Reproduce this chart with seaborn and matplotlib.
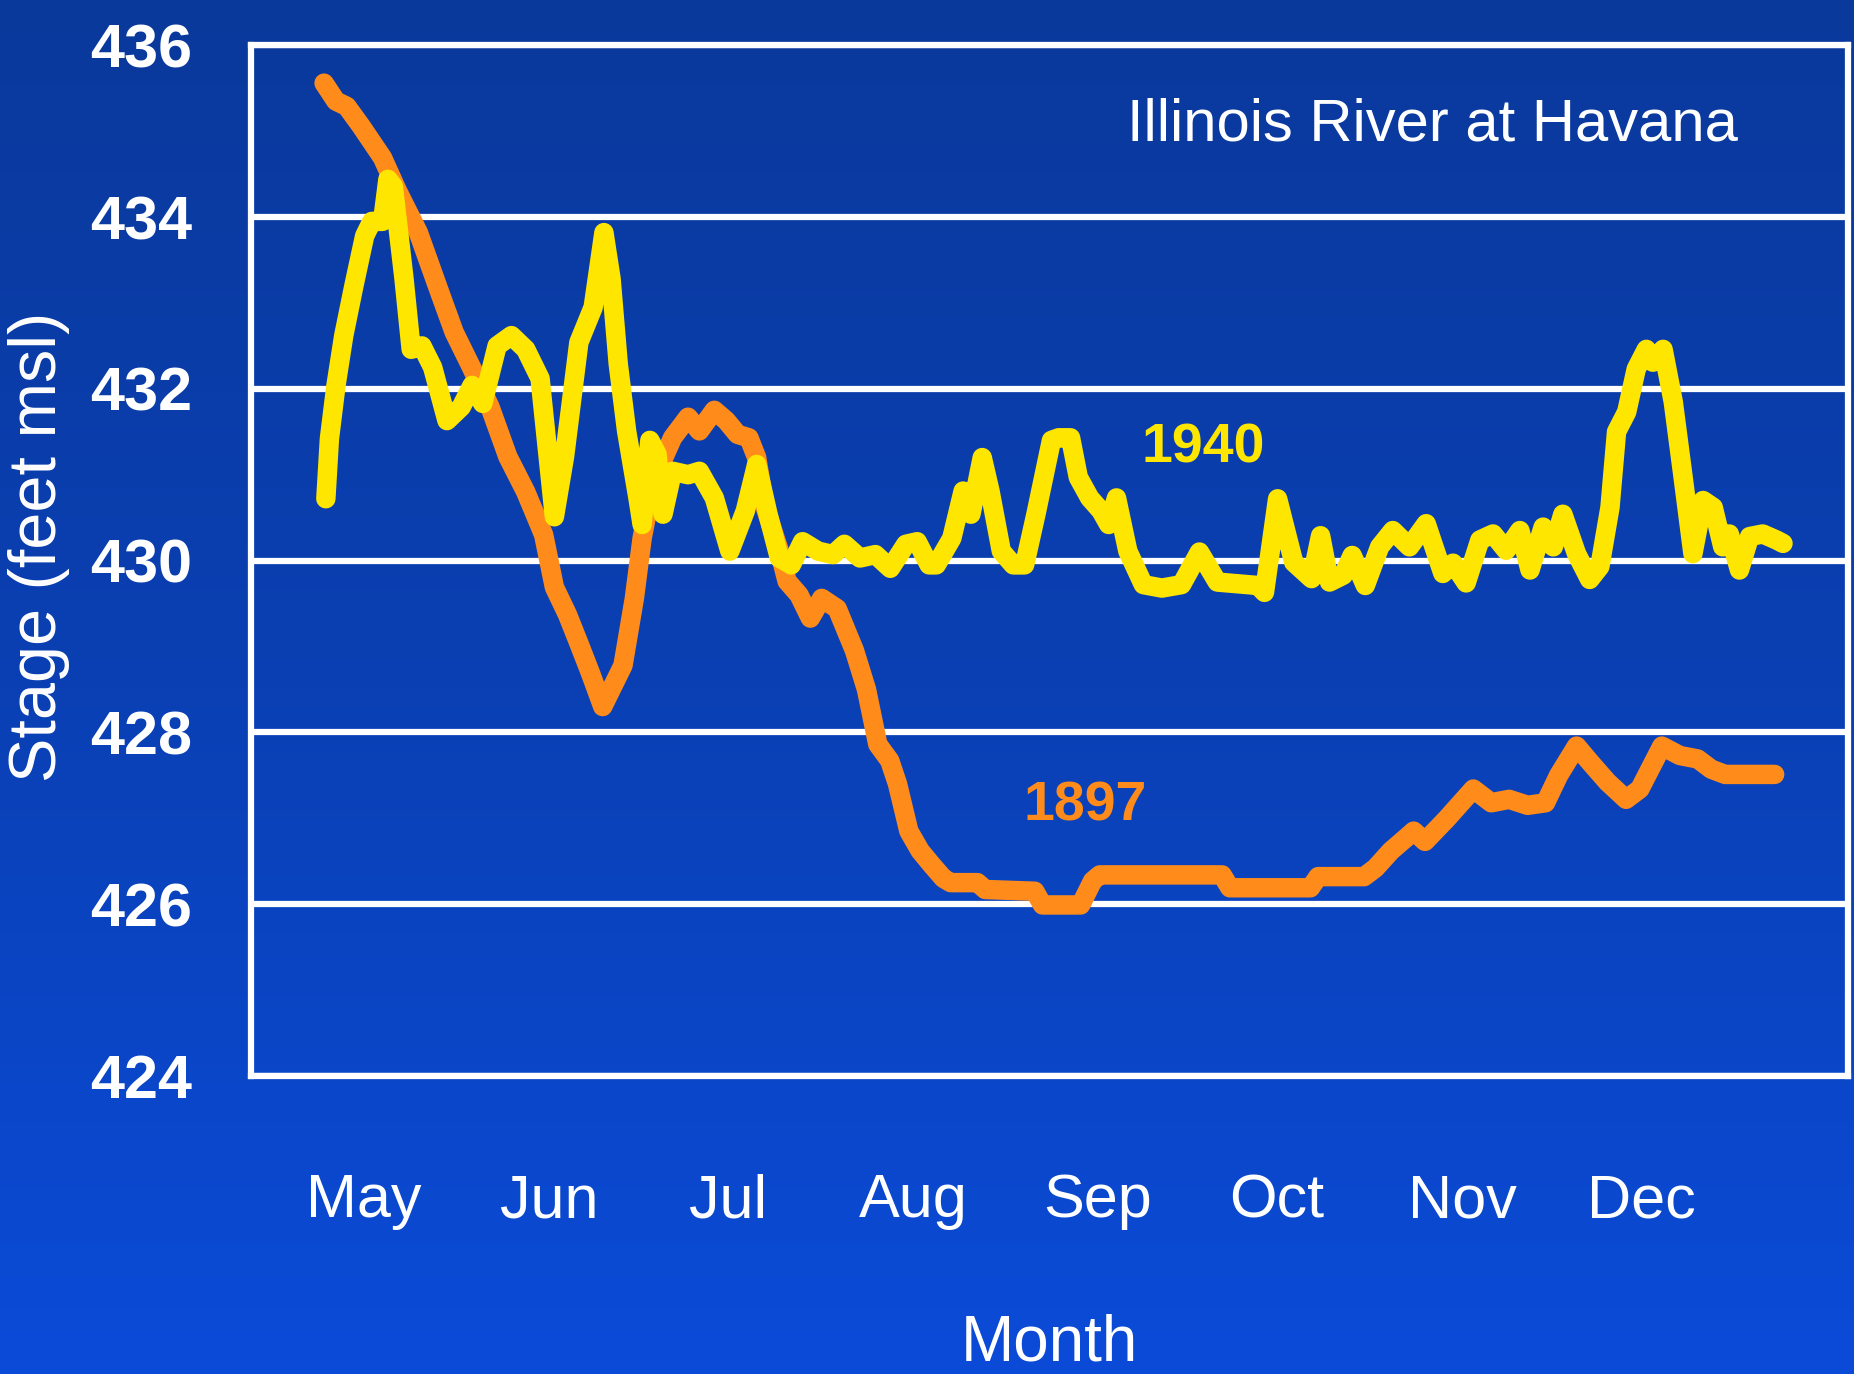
import numpy as np
import pandas as pd
import seaborn as sns
import matplotlib.pyplot as plt
from matplotlib.colors import LinearSegmentedColormap

# day 0 = May 1, month labels sit at mid-month
day_1897 = [8.3, 10.3, 12.1, 14.5, 18.1, 20.5, 24.1, 27.7, 30.1, 33.0, 36.1, 39.1, 42.1, 45.1, 46.9,
            49.1, 51.1, 53.0, 55.0, 58.4, 60.3, 61.6, 63.5, 66.7, 69.3, 71.2, 73.7, 75.7, 77.6, 79.5,
            80.8, 82.1, 84.6, 85.9, 87.9, 89.8, 91.7, 94.3, 97.2, 99.2, 101.1, 103.1, 104.4, 106.3,
            108.2, 110.1, 112.1, 113.3, 117.8, 119.1, 127.4, 128.7, 135.1, 137.1, 138.3, 158.8, 160.1,
            173.6, 174.9, 182.6, 184.5, 187.1, 189.6, 190.9, 192.8, 196.4, 200.9, 203.9, 206.9, 210.0,
            213.0, 215.2, 218.2, 220.5, 223.4, 226.5, 228.8, 232.5, 235.5, 238.5, 240.8, 243.1, 251.4]
stage_1897 = [435.56, 435.35, 435.29, 435.06, 434.69, 434.32, 433.82, 433.12, 432.66, 432.25, 431.79,
              431.21, 430.80, 430.30, 429.69, 429.37, 429.02, 428.68, 428.30, 428.78, 429.56, 430.26,
              430.93, 431.43, 431.67, 431.51, 431.75, 431.63, 431.47, 431.43, 431.20, 430.65, 430.11,
              429.76, 429.60, 429.33, 429.56, 429.44, 428.95, 428.50, 427.86, 427.67, 427.40, 426.85,
              426.62, 426.46, 426.30, 426.25, 426.25, 426.17, 426.15, 425.99, 425.99, 426.27, 426.34,
              426.34, 426.19, 426.19, 426.32, 426.32, 426.42, 426.62, 426.77, 426.85, 426.73, 426.99,
              427.34, 427.18, 427.22, 427.15, 427.18, 427.50, 427.84, 427.65, 427.42, 427.22, 427.34,
              427.84, 427.73, 427.69, 427.57, 427.51, 427.51]

day_1940 = [8.6, 9.2, 10.3, 11.6, 13.3, 15.1, 16.3, 18.1, 19.0, 19.9, 21.7, 22.9, 24.7, 26.5, 28.9,
            31.3, 33.1, 34.9, 37.3, 39.7, 42.1, 44.5, 46.9, 48.6, 51.0, 53.4, 55.2, 56.4, 57.6, 59.0,
            60.9, 61.6, 62.9, 64.1, 65.1, 66.7, 69.3, 71.2, 73.7, 76.3, 78.9, 80.8, 82.7, 84.6, 86.6,
            88.5, 91.1, 93.6, 95.5, 98.1, 100.7, 103.2, 105.8, 107.7, 109.7, 110.9, 113.5, 115.4, 116.7,
            118.6, 119.9, 121.8, 123.8, 125.7, 127.6, 130.2, 131.4, 133.4, 134.7, 136.6, 138.5, 139.8,
            141.1, 143.0, 145.6, 148.7, 152.0, 155.0, 158.0, 164.8, 165.9, 168.1, 170.8, 173.8, 175.3,
            176.8, 179.1, 180.6, 182.8, 185.2, 187.4, 190.2, 193.0, 195.8, 197.5, 199.7, 202.0, 204.2,
            206.4, 208.7, 210.4, 212.6, 214.3, 215.9, 218.2, 220.4, 222.1, 223.8, 224.9, 226.6, 228.2,
            229.9, 231.0, 232.7, 234.4, 236.0, 237.7, 239.4, 241.1, 242.7, 243.8, 245.5, 247.2, 249.4,
            251.7, 252.8]
stage_1940 = [430.72, 431.42, 432.04, 432.62, 433.20, 433.78, 433.95, 433.95, 434.44, 434.36, 433.28,
              432.46, 432.50, 432.25, 431.63, 431.79, 432.04, 431.83, 432.50, 432.62, 432.46, 432.12,
              430.51, 431.21, 432.54, 432.95, 433.82, 433.28, 432.29, 431.51, 430.73, 430.42, 431.40,
              431.24, 430.54, 431.04, 431.00, 431.04, 430.73, 430.11, 430.58, 431.12, 430.54, 430.03,
              429.95, 430.22, 430.11, 430.07, 430.19, 430.03, 430.07, 429.91, 430.19, 430.22, 429.95,
              429.95, 430.26, 430.81, 430.54, 431.20, 430.81, 430.11, 429.95, 429.95, 430.54, 431.40,
              431.43, 431.43, 430.97, 430.73, 430.58, 430.42, 430.73, 430.11, 429.72, 429.68, 429.72,
              430.10, 429.75, 429.71, 429.63, 430.72, 429.98, 429.79, 430.29, 429.75, 429.83, 430.06,
              429.71, 430.16, 430.35, 430.16, 430.43, 429.85, 429.97, 429.74, 430.24, 430.31, 430.12,
              430.35, 429.89, 430.39, 430.16, 430.54, 430.08, 429.78, 429.93, 430.62, 431.50, 431.73,
              432.23, 432.46, 432.31, 432.46, 431.85, 431.00, 430.08, 430.70, 430.62, 430.16, 430.31,
              429.89, 430.28, 430.31, 430.24, 430.20]

month_labels = ['May', 'Jun', 'Jul', 'Aug', 'Sep', 'Oct', 'Nov', 'Dec']
month_days = [15, 46, 76, 107, 138, 168, 199, 229]
y_ticks = [424, 426, 428, 430, 432, 434, 436]

df = pd.concat([
    pd.DataFrame({'day': day_1897, 'stage': stage_1897, 'year': '1897'}),
    pd.DataFrame({'day': day_1940, 'stage': stage_1940, 'year': '1940'}),
])

sns.set_style('white')
plt.rcParams['font.family'] = ['Liberation Sans', 'DejaVu Sans']

fig = plt.figure(figsize=(18.54, 13.74), dpi=100)

# slide background: darker blue at the top, brighter toward the bottom
bg_ax = fig.add_axes([0, 0, 1, 1], zorder=-1)
grad = LinearSegmentedColormap.from_list('slide', ['#0a399c', '#0a40b4', '#0a4bd8'])
bg_ax.imshow(np.linspace(0, 1, 256).reshape(-1, 1), aspect='auto', cmap=grad, extent=(0, 1, 0, 1))
bg_ax.set_axis_off()

ax = fig.add_axes([0.1352, 0.217, 0.8616, 0.750])
ax.patch.set_alpha(0)

# orange first so the yellow 1940 line sits on top
sns.lineplot(data=df, x='day', y='stage', hue='year',
             palette={'1897': '#ff8c1a', '1940': '#ffe600'},
             linewidth=14, ax=ax, legend=False, sort=False, zorder=3)
for ln in ax.lines:
    ln.set_solid_capstyle('round')
    ln.set_solid_joinstyle('round')

ax.set_xlim(-4.0, 263.7)
ax.set_ylim(424, 436)
ax.set_yticks(y_ticks)
ax.set_xticks(month_days)
ax.set_xticklabels(month_labels)
ax.yaxis.grid(True, color='white', linewidth=4.5)
ax.set_axisbelow(True)
for s in ax.spines.values():
    s.set_color('white')
    s.set_linewidth(4.5)

ax.tick_params(axis='both', length=0, colors='white')
ax.tick_params(axis='y', labelsize=44, pad=42)
ax.tick_params(axis='x', labelsize=44, pad=70)
for t in ax.get_yticklabels():
    t.set_fontweight('bold')

ax.set_xlabel('Month', color='white', fontsize=46, labelpad=60)
ax.set_ylabel('Stage (feet msl)', color='white', fontsize=48)
ax.yaxis.set_label_coords(-0.113, 0.513)

ax.text(0.931, 0.923, 'Illinois River at Havana', transform=ax.transAxes,
        ha='right', va='center', color='white', fontsize=43)
ax.text(155.7, 431.3, '1940', color='#ffe600', fontsize=40, fontweight='bold', ha='center', va='center')
ax.text(135.9, 427.14, '1897', color='#ff8c1a', fontsize=40, fontweight='bold', ha='center', va='center')

fig.savefig('out.png', dpi=100)
